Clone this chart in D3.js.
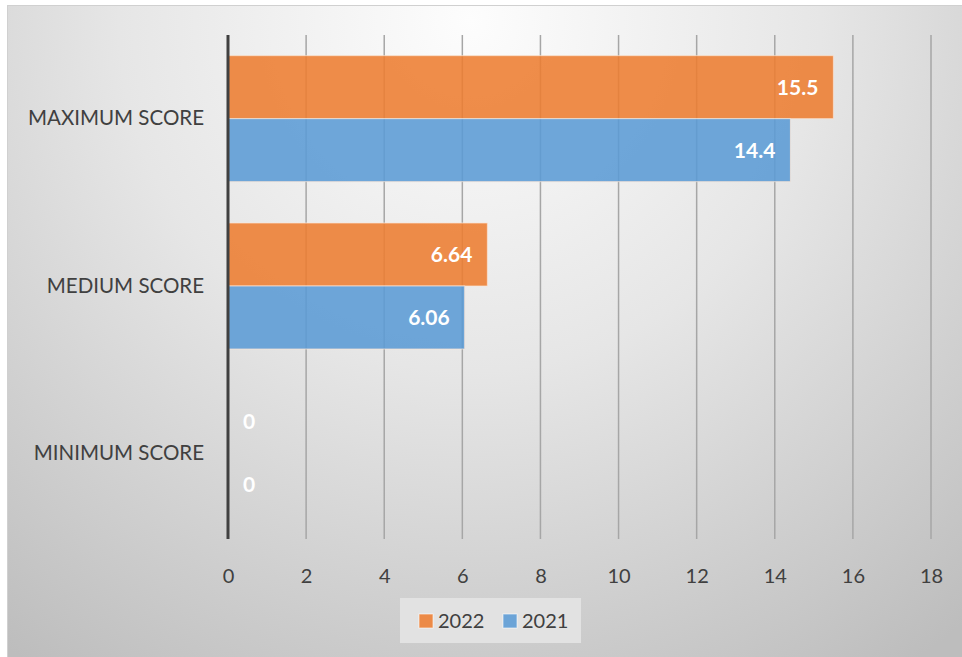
<!DOCTYPE html>
<html>
<head>
<meta charset="utf-8">
<script src="https://cdn.jsdelivr.net/npm/d3@7"></script>
<style>
	html, body { margin: 0; padding: 0; background: #fff; }
	svg { display: block; font-family: Lato, "Open Sans", sans-serif; }
</style>
</head>
<body>
<div id="chart"></div>
<script>
// categories, top to bottom
const categories = ["MAXIMUM SCORE", "MEDIUM SCORE", "MINIMUM SCORE"];
const seriesNames = ["2022", "2021"];
const values2022 = [15.5, 6.64, 0];
const values2021 = [14.4, 6.06, 0];
const xTicks = [0, 2, 4, 6, 8, 10, 12, 14, 16, 18];
const colors = ["#ED7D31", "#5B9BD5"];

const width = 962;
const height = 657;
const margins = { top: 35, right: 31, bottom: 120, left: 228 };

const svg = d3
	.select("#chart")
	.append("svg")
	.attr("width", width)
	.attr("height", height);

// background gradient (light at top centre, grey towards corners)
const defs = svg.append("defs");
const grad = defs
	.append("radialGradient")
	.attr("id", "bg")
	.attr("gradientUnits", "userSpaceOnUse")
	.attr("cx", 470)
	.attr("cy", 20)
	.attr("r", 780);
grad.append("stop").attr("offset", "0%").attr("stop-color", "#fdfdfd");
grad.append("stop").attr("offset", "45%").attr("stop-color", "#e6e6e6");
grad.append("stop").attr("offset", "100%").attr("stop-color", "#bdbdbd");

svg
	.append("rect")
	.attr("x", 7.5)
	.attr("y", 5.5)
	.attr("width", width + 20)
	.attr("height", height + 20)
	.attr("fill", "url(#bg)")
	.attr("stroke", "#d0d0d0")
	.attr("stroke-width", 1);

const x = d3
	.scaleLinear()
	.domain([0, 18])
	.range([margins.left, width - margins.right]);

const y0 = d3
	.scaleBand()
	.domain(categories)
	.range([margins.top, height - margins.bottom])
	.paddingInner(0.247)
	.paddingOuter(0.1235);

const y1 = d3
	.scaleBand()
	.domain(seriesNames)
	.range([0, y0.bandwidth()]);

// gridlines
const grid = svg.append("g").attr("class", "grid");
grid
	.selectAll("line")
	.data(xTicks.filter((d) => d !== 0))
	.join("line")
	.attr("x1", (d) => x(d))
	.attr("x2", (d) => x(d))
	.attr("y1", margins.top)
	.attr("y2", height - margins.bottom + 2)
	.attr("stroke", "#a6a6a6")
	.attr("stroke-width", 1.5);

// bars
const rows = categories.map((c, i) => ({
	cat: c,
	vals: [values2022[i], values2021[i]],
}));

const groups = svg
	.append("g")
	.selectAll("g")
	.data(rows)
	.join("g")
	.attr("transform", (d) => `translate(0, ${y0(d.cat)})`);

groups
	.selectAll("rect")
	.data((d) => d.vals.map((v, j) => ({ v, s: seriesNames[j], j })))
	.join("rect")
	.attr("x", x(0))
	.attr("y", (d) => y1(d.s))
	.attr("width", (d) => x(d.v) - x(0))
	.attr("height", y1.bandwidth())
	.attr("fill", (d) => colors[d.j])
	.attr("fill-opacity", (d) => (d.v > 0 ? 0.88 : 0))
	.attr("stroke", (d) => (d.v > 0 ? "#fbe5d6" : "none"))
	.attr("stroke-opacity", 0.7)
	.attr("stroke-width", 1);

// data labels, inside end
groups
	.selectAll("text")
	.data((d) => d.vals.map((v, j) => ({ v, s: seriesNames[j] })))
	.join("text")
	.attr("x", (d) => (d.v > 0 ? x(d.v) - 15 : x(0) + 15))
	.attr("y", (d) => y1(d.s) + y1.bandwidth() / 2)
	.attr("dy", "0.35em")
	.attr("text-anchor", (d) => (d.v > 0 ? "end" : "start"))
	.attr("fill", "#fff")
	.attr("font-weight", "bold")
	.attr("font-size", 21)
	.text((d) => d.v);

// zero axis line
svg
	.append("line")
	.attr("x1", x(0))
	.attr("x2", x(0))
	.attr("y1", margins.top)
	.attr("y2", height - margins.bottom + 2)
	.attr("stroke", "#404040")
	.attr("stroke-width", 3);

// x axis labels
const xAxis = svg
	.append("g")
	.attr("transform", `translate(0, ${height - margins.bottom})`)
	.call(d3.axisBottom(x).tickValues(xTicks).tickSize(0).tickPadding(32));
xAxis.select(".domain").remove();
xAxis
	.selectAll(".tick text")
	.attr("font-size", 20)
	.attr("font-family", "Lato, sans-serif")
	.attr("fill", "#404040");

// category labels
const yAxis = svg
	.append("g")
	.attr("transform", `translate(${margins.left}, 0)`)
	.call(d3.axisLeft(y0).tickSize(0).tickPadding(24));
yAxis.select(".domain").remove();
yAxis
	.selectAll(".tick text")
	.attr("font-size", 20.5)
	.attr("font-family", "Lato, sans-serif")
	.attr("fill", "#404040");

// legend
const legend = svg.append("g").attr("transform", "translate(400, 598)");
legend
	.append("rect")
	.attr("width", 181)
	.attr("height", 45)
	.attr("fill", "#e2e2e2");
const items = legend
	.selectAll("g")
	.data(seriesNames)
	.join("g")
	.attr("transform", (d, i) => `translate(${19 + i * 84}, 16)`);
items
	.append("rect")
	.attr("width", 14)
	.attr("height", 14)
	.attr("fill", (d, i) => colors[i])
	.attr("fill-opacity", 0.88)
	.attr("stroke", "#fff")
	.attr("stroke-opacity", 0.6);
items
	.append("text")
	.attr("x", 19)
	.attr("y", 7)
	.attr("dy", "0.35em")
	.attr("font-size", 20)
	.attr("fill", "#404040")
	.text((d) => d);
</script>
</body>
</html>
